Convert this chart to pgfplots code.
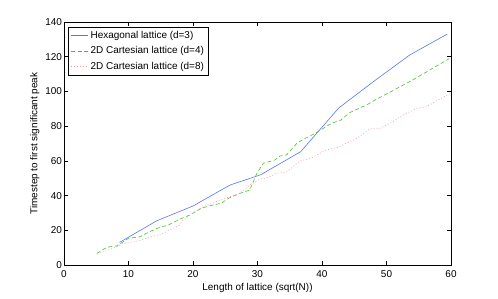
\documentclass[border=0pt]{standalone}
\usepackage{pgfplots}
\pgfplotsset{compat=1.18}
\usepackage{fontspec}
\setmainfont{Liberation Sans}
\definecolor{cblue}{rgb}{0.35,0.45,1}
\definecolor{cgreen}{rgb}{0.3,0.75,0.2}
\definecolor{cred}{rgb}{1,0.6,0.6}
\begin{document}
\fontsize{10}{12}\selectfont
\begin{tikzpicture}
\useasboundingbox (-64bp,-34bp) rectangle (434bp,265bp);
\begin{axis}[
  at={(0,0)}, anchor=south west,
  scale only axis, width=387bp, height=243bp,
  xmin=0, xmax=60, ymin=0, ymax=140,
  xtick={0,10,...,60}, ytick={0,20,...,140},
  tick align=inside, major tick length=4bp,
  axis line style={line width=0.5bp},
  every tick/.style={line width=0.5bp, black},
  /pgf/number format/assume math mode=true,
  tick label style={font=\fontsize{10}{12}\selectfont},
  xticklabel style={yshift=-2.5bp},
  yticklabel style={xshift=1.5bp},
  xlabel={Length of lattice (sqrt(N))},
  ylabel={Timestep to first significant peak},
  label style={font=\fontsize{10}{12}\selectfont},
  xlabel style={yshift=2bp},
  ylabel style={yshift=-1bp},
  legend cell align=left,
  legend style={at={(0.0111,0.9807)}, anchor=north west, draw=black, line width=0.5bp,
    font=\fontsize{10}{12}\selectfont, row sep=2.5bp, inner sep=2.5bp},
  legend image post style={line width=0.6bp},
]
\addplot[cblue, line width=0.6bp] coordinates {
(8.6,13)(14.4,25.5)(20,34)(25.7,46)(30.5,52)(36.7,65.3)(42.6,90.5)(48.1,106)(53.6,121)(59.4,133)
};
\addlegendentry{Hexagonal lattice (d=3)}
\addplot[cgreen, line width=0.6bp, dash pattern=on 4bp off 2.5bp] coordinates {
(5.1,6.7)(6.4,9.6)(7.1,10.5)(8.2,11)(9.2,13.4)(10,15.4)(11.8,16.3)(12.8,18.3)(14.4,21.1)(16.2,23.1)(17.9,26.3)(19.5,28.8)(21.3,32.7)(23.1,34.6)(24.4,35.6)(25.5,38.4)(27,40.9)(28.8,43.2)(29.9,52.8)(30.9,58.6)(32.7,60.5)(33.5,62.8)(34.5,63.4)(36.1,70.1)(37.1,72.4)(39,75.9)(40.5,79.4)(41.5,81.7)(42.8,83.2)(44.3,87.8)(46.9,92.2)(48.2,95)(51,100.5)(54,106.5)(57,113)(59.7,118.8)
};
\addlegendentry{2D Cartesian lattice (d=4)}
\addplot[cred, line width=0.6bp, dash pattern=on 1bp off 2bp] coordinates {
(5.1,6.3)(8.2,10.5)(9.2,12.5)(11,13.4)(12.3,14.8)(13.6,16.3)(15.4,18.3)(16.9,21.1)(17.9,23)(18.5,25.9)(20.3,30.7)(21.6,33.6)(23.1,35.6)(24.2,37.5)(25.7,39.4)(27.3,41.3)(28.8,46.1)(30.4,49.5)(31.7,50.5)(32.9,52.8)(34.5,53.5)(36.6,60)(38.1,61.2)(40.7,66.3)(42.5,67.8)(44.3,71.1)(45.4,73)(47.4,78.4)(49,78.8)(51.1,82.6)(52.1,85.5)(54.7,90.3)(56.2,91.2)(58,95.1)(59.8,98.6)
};
\addlegendentry{2D Cartesian lattice (d=8)}
\end{axis}
\end{tikzpicture}
\end{document}
